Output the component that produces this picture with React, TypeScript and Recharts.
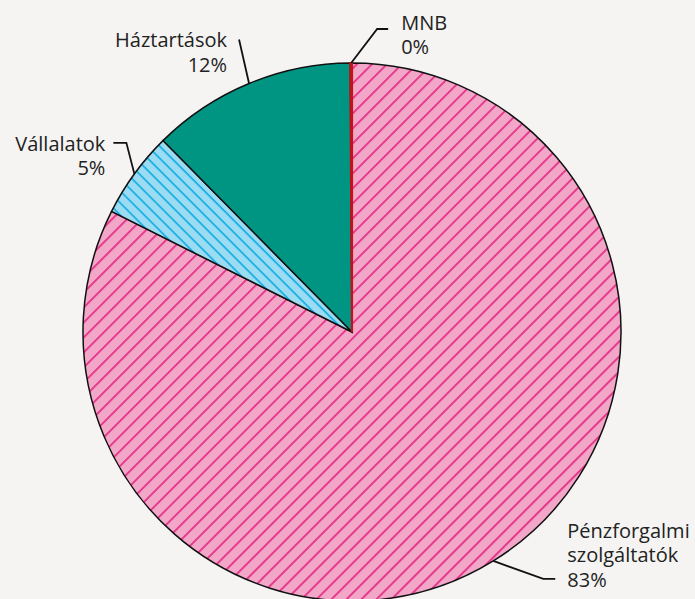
import React from "react";
import { PieChart, Pie, Cell } from "recharts";

const categories = ["Pénzforgalmi szolgáltatók", "Vállalatok", "Háztartások", "MNB"];
const labelLines = [["Pénzforgalmi", "szolgáltatók", "83%"], ["Vállalatok", "5%"], ["Háztartások", "12%"], ["MNB", "0%"]];
const values = [82.4, 5.2, 12.3, 0.1];

const data = categories.map((name, i) => ({ name, value: values[i] }));

const fills = ["url(#hatchPink)", "url(#hatchBlue)", "#009583", "#c0141a"];
const strokes = ["#111", "#111", "#111", "#c0141a"];
const strokeWidths = [1.5, 1.5, 1.5, 2.2];

// leader geometry: elbow offset from the slice edge, horizontal tail, text offset, text anchor, index of line aligned to the tail
const leaders = [
  { dx: 50, dy: 18, tail: 12, gap: 12, anchor: "start", align: 2 },
  { dx: -8, dy: -31, tail: -13, gap: -8, anchor: "end", align: 0 },
  { dx: -10, dy: -44, tail: 0, gap: -12, anchor: "end", align: 0 },
  { dx: 26, dy: -34, tail: 11, gap: 13, anchor: "start", align: 0.3 },
];

const RADIAN = Math.PI / 180;
const LINE_H = 24.5;

const renderLabel = (props: any) => {
  const { cx, cy, midAngle, outerRadius, index } = props;
  const sx = cx + outerRadius * Math.cos(-midAngle * RADIAN);
  const sy = cy + outerRadius * Math.sin(-midAngle * RADIAN);
  const L = leaders[index];
  const ex = sx + L.dx;
  const ey = sy + L.dy;
  const tx = ex + L.tail;
  const lines = labelLines[index];
  const textX = tx + L.gap;
  const firstY = ey - L.align * LINE_H;
  return (
    <g key={`lab-${index}`}>
      <polyline
        points={`${sx},${sy} ${ex},${ey} ${tx},${ey}`}
        fill="none"
        stroke="#111"
        strokeWidth={1.8}
      />
      <text
        x={textX}
        y={firstY}
        textAnchor={L.anchor as any}
        fill="#222"
        fontSize={20}
        fontFamily="'Open Sans', sans-serif"
        dominantBaseline="central"
      >
        {lines.map((t, k) => (
          <tspan key={k} x={textX} y={firstY + k * LINE_H}>
            {t}
          </tspan>
        ))}
      </text>
    </g>
  );
};

export default function App() {
  return (
    <div style={{ position: "absolute", left: 0, top: 0, width: 695, height: 599, background: "#f5f4f2" }}>
      <PieChart width={695} height={599} margin={{ top: 0, right: 0, bottom: 0, left: 0 }}>
        <defs>
          <pattern id="hatchPink" width="10.6" height="10.6" patternUnits="userSpaceOnUse" patternTransform="rotate(45)">
            <rect width="10.6" height="10.6" fill="#f2a7c9" />
            <line x1="1" y1="0" x2="1" y2="10.6" stroke="#e5398a" strokeWidth="2" />
          </pattern>
          <pattern id="hatchBlue" width="8.5" height="8.5" patternUnits="userSpaceOnUse" patternTransform="rotate(-45)">
            <rect width="8.5" height="8.5" fill="#9bdcf2" />
            <line x1="1" y1="0" x2="1" y2="8.5" stroke="#1cb0e6" strokeWidth="1.8" />
          </pattern>
        </defs>
        <Pie
          data={data}
          dataKey="value"
          nameKey="name"
          cx={352}
          cy={332}
          outerRadius={269}
          innerRadius={0}
          startAngle={90}
          endAngle={-270}
          isAnimationActive={false}
          label={renderLabel}
          labelLine={false}
        >
          {data.map((d, i) => (
            <Cell key={d.name} fill={fills[i]} stroke={strokes[i]} strokeWidth={strokeWidths[i]} />
          ))}
        </Pie>
      </PieChart>
    </div>
  );
}
